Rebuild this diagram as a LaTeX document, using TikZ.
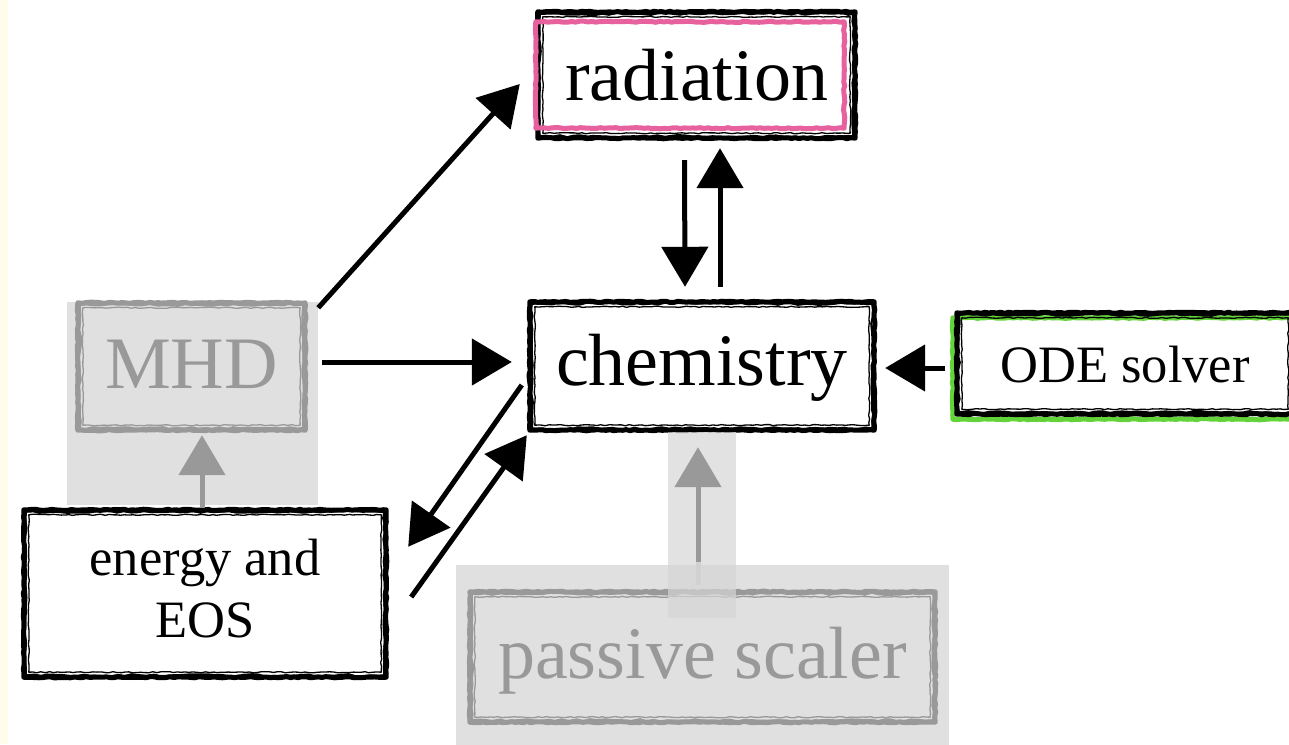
\documentclass[tikz,border=0pt]{standalone}
\usepackage{fontspec}
\setmainfont{Liberation Serif}
\usetikzlibrary{arrows.meta,calc,decorations.pathmorphing}

\definecolor{pinkframe}{HTML}{E8619F}
\definecolor{greenframe}{HTML}{62D43A}
\definecolor{fadegray}{HTML}{999999}
\definecolor{panelgray}{HTML}{E0E0E0}
\definecolor{stripgray}{HTML}{D6D6D6}
\definecolor{cream}{HTML}{FFFCEB}

% brush-like frame round a node: heavy outer stroke, rough second pass, thin inner stroke
\newcommand\skframe[2]{%
  \draw[rough,line width=5pt,#2] (#1.south west) rectangle (#1.north east);
  \draw[roughb,line width=2pt,#2] ([shift={(2,-2)}]#1.south west) rectangle ([shift={(-2,2)}]#1.north east);
  \draw[rough,line width=1.3pt,#2] ([shift={(5,-5)}]#1.south west) rectangle ([shift={(-5,5)}]#1.north east);
}

\begin{document}
\begin{tikzpicture}[x=1pt,y=-1pt,
  rough/.style={decorate,decoration={random steps,segment length=4pt,amplitude=0.6pt},line join=round},
  roughb/.style={decorate,decoration={random steps,segment length=7pt,amplitude=1.1pt},line join=round},
  box/.style={rectangle,inner sep=0pt,text depth=0pt},
  big/.style={font=\fontsize{74}{80}\selectfont},
  small/.style={font=\fontsize{52.5}{62}\selectfont},
  arr/.style={line width=5pt,-{Triangle[length=40pt,width=46pt]}},
  garr/.style={arr,draw=fadegray}]
\pgfmathsetseed{11}
\useasboundingbox (0,0) rectangle (1289,744);
\fill[white] (0,0) rectangle (1289,744);
\fill[cream] (0,0) rectangle (8,744);

% grey panels behind the faded boxes
\fill[panelgray] (67,302) rectangle (318,505);
\fill[panelgray] (456,565) rectangle (949,750);

% boxes
\node[box,big,minimum width=317pt,minimum height=126pt,text height=50pt] (rad) at (696.5,75) {radiation};
\node[box,big,minimum width=344pt,minimum height=128pt,text height=38pt] (chem) at (702,366) {chemistry};
\node[box,big,text=fadegray,minimum width=227pt,minimum height=127pt,text height=43pt] (mhd) at (191.5,366.5) {MHD};
\node[box,small,align=center,minimum width=362pt,minimum height=167pt,text height=87pt] (eos) at (205,593.5) {energy and\\EOS};
\node[box,small,minimum width=336pt,minimum height=101pt,text height=37pt] (ode) at (1125,363.5) {ODE solver};
\node[box,big,text=fadegray,minimum width=465pt,minimum height=130pt,text height=42pt] (pas) at (702.5,657) {passive scaler};

% frames
\skframe{rad}{black}
\draw[rough,pinkframe,line width=5pt] ($(rad.south west)+(-2,-10)$) rectangle ($(rad.north east)+(-11,10)$);
\skframe{chem}{black}
\skframe{mhd}{fadegray}
\skframe{eos}{black}
\draw[rough,greenframe,line width=5pt] ($(ode.south west)+(-4,5)$) rectangle ($(ode.north east)+(7,5)$);
\skframe{ode}{black}
\skframe{pas}{fadegray}

% connectors
\draw[arr] ($(mhd.north east)+(13,5)$) -- ($(rad.west)+(-18,9)$);
\draw[arr] ($(mhd.east)+(17,-4.5)$) -- ($(chem.west)+(-18,-4)$);
\draw[arr] ($(chem.west)+(-8,19)$) -- ($(eos.north east)+(22,37)$);
\draw[arr] ($(eos.east)+(25,3.5)$) -- ($(chem.south west)+(-3,5)$);
\draw[arr] ($(rad.south)+(-12,22)$) -- ($(chem.north)+(-17,-15)$);
\draw[arr] ($(chem.north)+(18,-15)$) -- ($(rad.south)+(23.5,10)$);
\draw[arr] ($(ode.west)+(-12,4.5)$) -- ($(chem.east)+(11,2)$);
\draw[garr] ($(eos.north)+(-3,-2)$) -- ($(mhd.south)+(10.5,5)$);

% translucent strip behind the passive scaler link
\fill[stripgray,opacity=.7] (668,432) rectangle (736,618);
\draw[garr] ($(pas.north)+(-4.5,-7)$) -- ($(chem.south)+(-4,17)$);
\draw[line width=5pt,draw=fadegray!45!white] ($(pas.north)+(-4.5,-7)$) -- ($(pas.north)+(-4.5,-30)$);
\end{tikzpicture}
\end{document}
